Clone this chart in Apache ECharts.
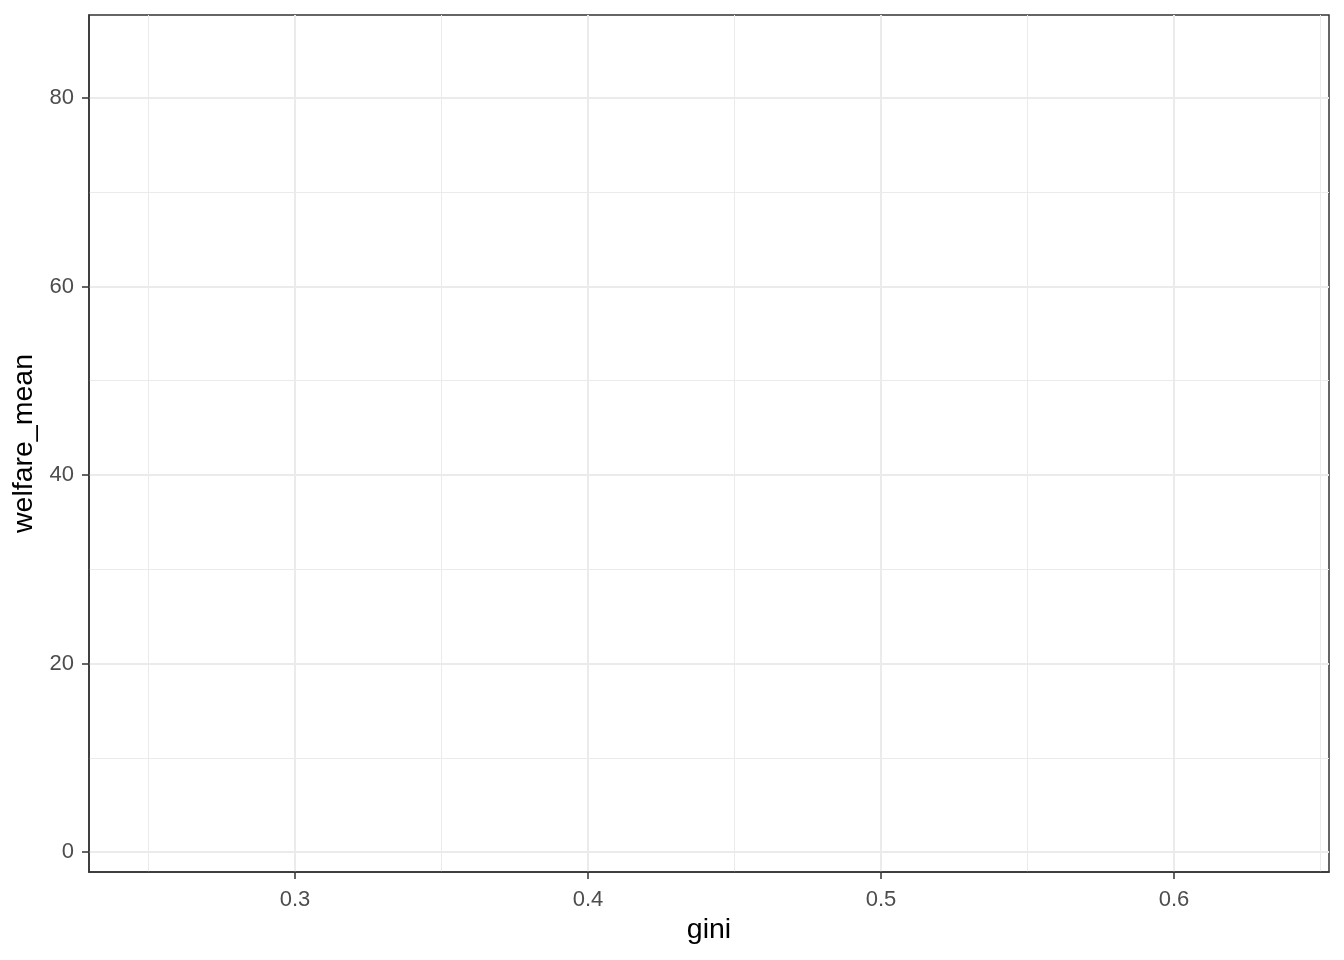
<!DOCTYPE html>
<html lang="en">
<head>
    <meta charset="UTF-8">
    <style>
    html, body {
        margin: 0;
        padding: 0;
        background-color: #ffffff;
    }

    #chart {
        width: 1344px;
        height: 960px;
    }
    </style>
    <script src="https://cdn.jsdelivr.net/npm/echarts@6.0.0/dist/echarts.min.js"></script>
</head>
<body>
    <div id="chart"></div>
    <script>
        // the plot has no points, only the empty panel
        const points = [];

        const xMajor = [0.3, 0.4, 0.5, 0.6];
        const xMinor = [0.25, 0.35, 0.45, 0.55, 0.65];
        const xRange = [0.2297, 0.6529];

        const yMajor = [0, 20, 40, 60, 80];
        const yMinor = [10, 30, 50, 70];
        const yRange = [-2.12, 88.8];

        const fontFamily = 'Liberation Sans, Arial, sans-serif';
        const gridColor = '#ebebeb';
        const inkColor = '#333333';

        function majorAxis(range, ticks, name, isX) {
            return {
                type: 'value',
                min: range[0],
                max: range[1],
                name: name,
                nameLocation: 'middle',
                nameGap: isX ? 43 : 40,
                nameRotate: isX ? 0 : 90,
                nameTextStyle: { fontFamily: fontFamily, fontSize: 28.5, color: '#000000' },
                axisLine: { show: true, onZero: false, lineStyle: { color: inkColor, width: 1.5 } },
                axisTick: {
                    show: true, length: 7, customValues: ticks,
                    lineStyle: { color: inkColor, width: 1.5 }
                },
                axisLabel: {
                    customValues: ticks, margin: isX ? 17 : 15,
                    fontFamily: fontFamily, fontSize: 22, color: '#4d4d4d',
                    formatter: v => String(v)
                },
                splitLine: { show: true, lineStyle: { color: gridColor, width: 2 } },
                z: 2
            };
        }

        function minorAxis(range, ticks) {
            return {
                type: 'value',
                min: range[0],
                max: range[1],
                axisLine: { show: false },
                axisTick: { show: false, customValues: ticks },
                axisLabel: { show: false, customValues: ticks },
                splitLine: { show: true, lineStyle: { color: gridColor, width: 1 } },
                z: 1
            };
        }

        const chart = echarts.init(document.getElementById('chart'), null, { renderer: 'canvas' });

        chart.setOption({
            animation: false,
            grid: {
                left: 89, right: 15, top: 15, bottom: 88,
                show: true, borderColor: inkColor, borderWidth: 1.5,
                backgroundColor: '#ffffff'
            },
            xAxis: [
                majorAxis(xRange, xMajor, 'gini', true),
                minorAxis(xRange, xMinor)
            ],
            yAxis: [
                majorAxis(yRange, yMajor, 'welfare_mean', false),
                minorAxis(yRange, yMinor)
            ],
            series: [{
                type: 'scatter',
                data: points,
                xAxisIndex: 0,
                yAxisIndex: 0,
                symbolSize: 8
            }]
        });
    </script>
</body>
</html>
